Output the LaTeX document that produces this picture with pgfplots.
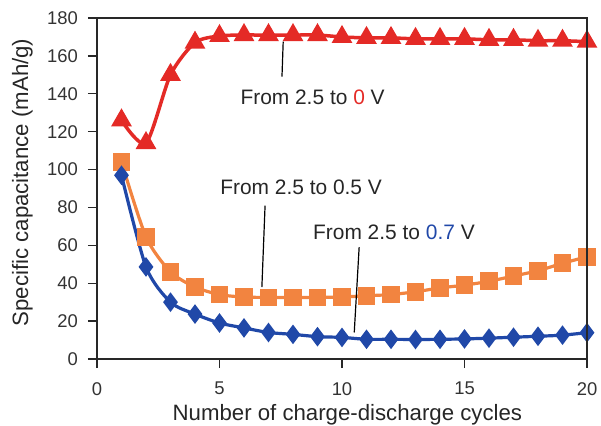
\documentclass[border=0pt]{standalone}
\usepackage{pgfplots}
\pgfplotsset{compat=1.18}
\usepackage{fontspec}
\setmainfont{Liberation Sans}
\definecolor{cred}{RGB}{228,42,38}
\definecolor{corange}{RGB}{242,132,64}
\definecolor{cblue}{RGB}{32,72,168}
\definecolor{cframe}{RGB}{40,40,40}
\begin{document}
\begin{tikzpicture}
\useasboundingbox (-97bp,-67bp) rectangle (504bp,359bp);
\begin{axis}[
  at={(0,0)}, anchor=south west,
  scale only axis, width=490bp, height=341bp,
  xmin=0, xmax=20, ymin=0, ymax=180,
  xtick={0,5,10,15,20}, ytick={0,20,...,180},
  tick align=outside,
  xtick pos=bottom, ytick pos=left,
  major tick length=9bp,
  clip=false,
  axis line style={line width=1.8bp, cframe},
  tick style={line width=1.3bp, cframe},
  /pgf/number format/assume math mode=true,
  tick label style={font=\fontsize{18.5}{21}\selectfont, text=black!80},
  xticklabel style={inner sep=0pt, yshift=-14bp},
  yticklabel style={inner sep=0pt, xshift=-10bp},
  xlabel={Number of charge-discharge cycles},
  ylabel={Specific capacitance (mAh/g)},
  label style={font=\fontsize{22.3}{26}\selectfont, text=black!85},
  xlabel style={at={(axis description cs:0.511,-0.1818)}, anchor=base},
  ylabel style={at={(axis description cs:-0.1408,0.5176)}, anchor=base},
]
\addplot[cred, line width=3.5bp, smooth, tension=0.45, mark=triangle*, mark size=8.5bp, mark options={solid}] coordinates {
(1,126)(2,114)(3,150)(4,167)(5,170.5)(6,171)(7,171)(8,171)(9,171)(10,170)(11,169.5)(12,169.5)(13,169)(14,169)(15,169)(16,168.5)(17,168.5)(18,168)(19,168)(20,167.5)};
\addplot[corange, line width=3.2bp, smooth, tension=0.45, mark=square*, mark size=7.3bp, mark options={solid}] coordinates {
(1,104)(2,64.5)(3,46)(4,38)(5,34)(6,32.7)(7,32.5)(8,32.5)(9,32.5)(10,32.7)(11,33.4)(12,34)(13,35.5)(14,37.5)(15,39)(16,41)(17,43.8)(18,46.6)(19,50.5)(20,54)};
\addplot[cblue, line width=3.2bp, smooth, tension=0.45, mark=diamond*, mark size=7.2bp, mark options={solid}] coordinates {
(1,97)(2,48.6)(3,30)(4,23.7)(5,19)(6,16.4)(7,14)(8,13)(9,11.8)(10,11.4)(11,10.4)(12,10.4)(13,10.3)(14,10.4)(15,10.6)(16,11)(17,11.5)(18,12)(19,12.6)(20,13.9)};
\draw[black, line width=1.2bp] (axis cs:7.6,167.5) -- (axis cs:7.55,149);
\draw[black, line width=1.2bp] (axis cs:6.86,81) -- (axis cs:6.73,38);
\draw[black, line width=1.2bp] (axis cs:10.7,59) -- (axis cs:10.5,14);
\node[font=\fontsize{21}{25}\selectfont, text=black!85] at (axis cs:8.8,138.3) {From 2.5 to {\color{cred}0} V};
\node[font=\fontsize{21}{25}\selectfont, text=black!85] at (axis cs:8.33,90.5) {From 2.5 to 0.5 V};
\node[font=\fontsize{21}{25}\selectfont, text=black!85] at (axis cs:12.12,67) {From 2.5 to {\color{cblue}0.7} V};
\end{axis}
\draw[cframe, line width=1.8bp] (0bp,341bp) -- (490bp,341bp) -- (490bp,0bp);
\end{tikzpicture}
\end{document}
